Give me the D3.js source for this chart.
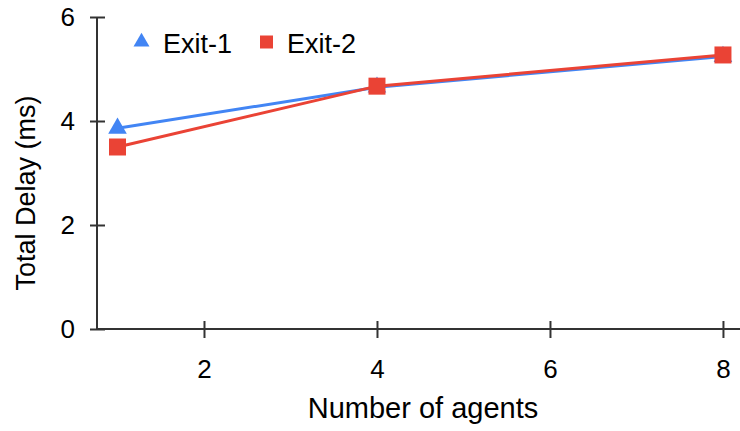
<!DOCTYPE html>
<html>
<head>
<meta charset="utf-8">
<script src="https://cdn.jsdelivr.net/npm/d3@7"></script>
<style>
  html, body { margin: 0; padding: 0; background: #fff; }
  svg { display: block; font-family: "Liberation Sans", Arial, sans-serif; }
</style>
</head>
<body>
<svg id="chart" width="740" height="431"></svg>
<script>
// Number of agents on the x axis
const agents = [1, 4, 8];
// Total delay (ms) for each exit
const exit1 = [3.86, 4.65, 5.24];
const exit2 = [3.50, 4.67, 5.27];
const seriesNames = ["Exit-1", "Exit-2"];
const xTicks = [2, 4, 6, 8];
const yTicks = [0, 2, 4, 6];

const colors = { "Exit-1": "#4285F4", "Exit-2": "#EA4335" };
const axisColor = "#333";

const svg = d3.select("#chart");
const x = d3.scaleLinear().domain([0.763, 8.197]).range([97, 740]);
const y = d3.scaleLinear().domain([0, 6]).range([329, 17]);

// Y axis with ticks crossing the axis line
const yAxis = svg.append("g")
  .attr("transform", `translate(${x.range()[0]},0)`)
  .call(d3.axisLeft(y).tickValues(yTicks).tickSize(7).tickFormat(d3.format("d")));
yAxis.select(".domain").remove();
yAxis.append("line")
  .attr("x1", 0).attr("x2", 0).attr("y1", y(6)).attr("y2", y(0))
  .attr("stroke", axisColor).attr("stroke-width", 2);
yAxis.selectAll(".tick line").attr("x1", 8).attr("stroke", axisColor).attr("stroke-width", 2);
yAxis.selectAll(".tick text").attr("x", -22).attr("fill", "#000")
  .style("font-size", "26px").style("font-family", "Liberation Sans, Arial, sans-serif");

// X axis with ticks crossing the axis line
const xAxis = svg.append("g")
  .attr("transform", `translate(0,${y(0)})`)
  .call(d3.axisBottom(x).tickValues(xTicks).tickSize(9).tickFormat(d3.format("d")));
xAxis.select(".domain").remove();
xAxis.append("line")
  .attr("x1", x.range()[0]).attr("x2", x.range()[1]).attr("y1", 0).attr("y2", 0)
  .attr("stroke", axisColor).attr("stroke-width", 2);
xAxis.selectAll(".tick line").attr("y1", -8).attr("stroke", axisColor).attr("stroke-width", 2);
xAxis.selectAll(".tick text").attr("y", 31).attr("fill", "#000")
  .style("font-size", "26px").style("font-family", "Liberation Sans, Arial, sans-serif");

// Axis titles
svg.append("text")
  .attr("x", 423).attr("y", 418)
  .attr("text-anchor", "middle")
  .style("font-size", "29px")
  .text("Number of agents");

svg.append("text")
  .attr("transform", "translate(35,193) rotate(-90)")
  .attr("text-anchor", "middle")
  .style("font-size", "27px")
  .text("Total Delay (ms)");

// Series lines and markers
const series = [
  { name: "Exit-1", values: exit1, shape: d3.symbolTriangle },
  { name: "Exit-2", values: exit2, shape: d3.symbolSquare }
];

const line = d3.line().x(d => x(d[0])).y(d => y(d[1]));

series.forEach(s => {
  const pts = agents.map((a, i) => [a, s.values[i]]);
  svg.append("path")
    .datum(pts)
    .attr("fill", "none")
    .attr("stroke", colors[s.name])
    .attr("stroke-width", 3)
    .attr("d", line);
  svg.selectAll(null)
    .data(pts)
    .enter().append("path")
    .attr("transform", d => `translate(${x(d[0])},${y(d[1])})`)
    .attr("d", d3.symbol().type(s.shape).size(s.shape === d3.symbolSquare ? 289 : 150))
    .attr("fill", colors[s.name]);
});

// Legend
const legend = svg.append("g");
const legendItems = [
  { name: seriesNames[0], shape: d3.symbolTriangle, mx: 141.5, tx: 163 },
  { name: seriesNames[1], shape: d3.symbolSquare, mx: 266.5, tx: 287 }
];
legendItems.forEach(item => {
  legend.append("path")
    .attr("transform", `translate(${item.mx},42)`)
    .attr("d", d3.symbol().type(item.shape).size(item.shape === d3.symbolSquare ? 169 : 110))
    .attr("fill", colors[item.name]);
  legend.append("text")
    .attr("x", item.tx).attr("y", 53)
    .style("font-size", "27px")
    .text(item.name);
});
</script>
</body>
</html>
